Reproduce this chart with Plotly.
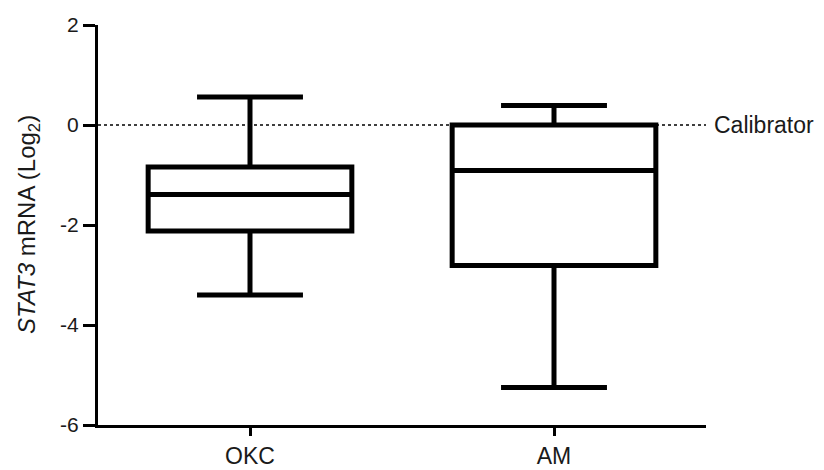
import plotly.graph_objects as go

categories = ["OKC", "AM"]
upper_whisker = [0.56, 0.39]
q3_values = [-0.84, 0.0]
medians = [-1.39, -0.91]
q1_values = [-2.12, -2.81]
lower_whisker = [-3.40, -5.25]
y_ticks = [-6, -4, -2, 0, 2]
calibrator_level = 0
calibrator_label = "Calibrator"
y_title = "<i>STAT3</i> mRNA (Log<sub>2</sub>)"

font_family = "Liberation Sans, Arial, sans-serif"
ink = "#1a1a1a"

fig = go.Figure()
fig.add_trace(go.Box(
    x=categories,
    q1=q1_values,
    median=medians,
    q3=q3_values,
    lowerfence=lower_whisker,
    upperfence=upper_whisker,
    width=0.67,
    whiskerwidth=0.52,
    fillcolor="white",
    line=dict(color="black", width=5),
    boxpoints=False,
    showlegend=False,
    hoverinfo="skip",
))

fig.add_shape(type="line", xref="paper", yref="y", x0=0, x1=1,
              y0=calibrator_level, y1=calibrator_level,
              line=dict(color="black", width=1.5, dash="dot"), layer="below")
fig.add_annotation(xref="paper", yref="y", x=1, y=calibrator_level,
                   text=calibrator_label, showarrow=False, xanchor="left",
                   xshift=6, font=dict(family=font_family, size=23, color=ink))
fig.add_annotation(xref="paper", yref="paper", x=0, y=0.5,
                   text=y_title, showarrow=False, textangle=-90,
                   xanchor="center", yanchor="middle", xshift=-70,
                   font=dict(family=font_family, size=24, color=ink))

fig.update_layout(
    width=824, height=470,
    margin=dict(l=98, r=118, t=25, b=45),
    paper_bgcolor="white", plot_bgcolor="white",
    font=dict(family=font_family, size=19, color=ink),
    xaxis=dict(
        range=[-0.5, 1.5], showline=True, linecolor="black", linewidth=3,
        ticks="outside", ticklen=8, tickwidth=3, tickcolor="black",
        showgrid=False, zeroline=False, tickfont=dict(size=23),
        automargin=False,
    ),
    yaxis=dict(
        range=[-6, 2], tickvals=y_ticks, ticktext=[str(v) for v in y_ticks],
        showline=True, linecolor="black", linewidth=3,
        ticks="outside", ticklen=12, tickwidth=3, tickcolor="black",
        showgrid=False, zeroline=False, tickfont=dict(size=21),
        automargin=False,
    ),
)

fig.write_html(
    "out.html",
    config={"displayModeBar": False},
    post_script="document.body.style.margin='0';document.body.style.overflow='hidden';",
)
